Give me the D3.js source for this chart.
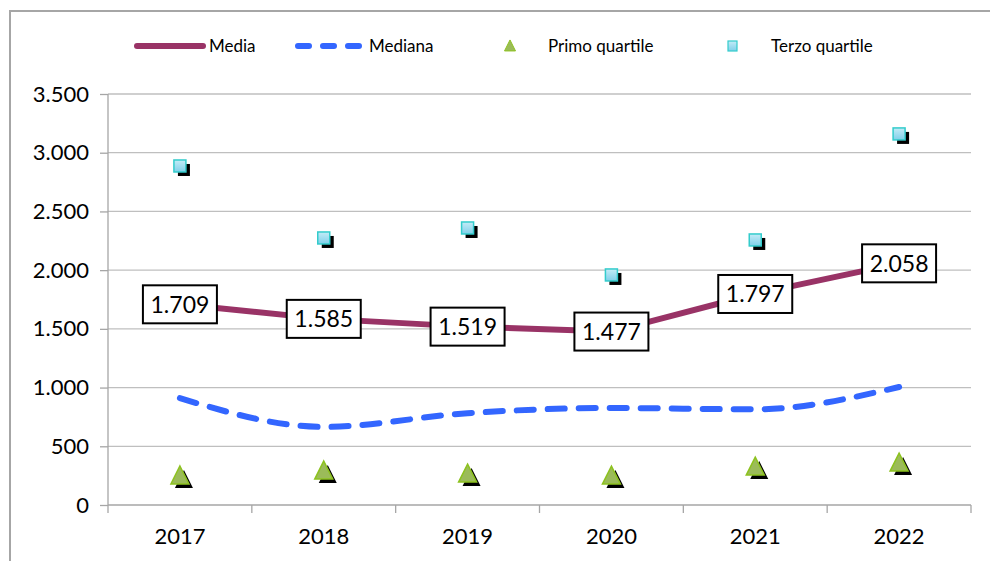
<!DOCTYPE html>
<meta charset="utf-8">
<head>
<script src="https://d3js.org/d3.v7.min.js"></script>
<style>
body { margin: 0; background: #fff; }
text { font-family: Lato, "Noto Sans", sans-serif; fill: #000; }
</style>
</head>
<body>
<script>
var years = ["2017", "2018", "2019", "2020", "2021", "2022"];
var media = [1709, 1585, 1519, 1477, 1797, 2058];
var mediana = [910, 665, 782, 826, 815, 1005];
var primoQuartile = [248, 290, 264, 247, 324, 358];
var terzoQuartile = [2887, 2274, 2359, 1959, 2257, 3160];
var yTicks = [0, 500, 1000, 1500, 2000, 2500, 3000, 3500];

var W = 990, H = 561;
var plotLeft = 108, plotRight = 971, plotTop = 94, plotBottom = 505;

var svg = d3.select("body").append("svg")
    .attr("width", W).attr("height", H);

// outer frame
svg.append("path")
    .attr("d", "M10," + H + "V11H" + W)
    .attr("fill", "none").attr("stroke", "#a6a6a6").attr("stroke-width", 2);

var x = d3.scaleBand().domain(years).range([plotLeft, plotRight]);
var y = d3.scaleLinear().domain([0, 3500]).range([plotBottom, plotTop]);
var fmt = function(v) { return d3.format(",")(v).replace(/,/g, "."); };

// gridlines
svg.append("g").selectAll("line").data(yTicks.slice(1)).enter().append("line")
    .attr("x1", plotLeft).attr("x2", plotRight)
    .attr("y1", function(d) { return y(d); }).attr("y2", function(d) { return y(d); })
    .attr("stroke", "#bfbfbf").attr("stroke-width", 1.3);

// y axis
var yAxis = svg.append("g").attr("transform", "translate(" + plotLeft + ",0)")
    .call(d3.axisLeft(y).tickValues(yTicks).tickSize(8).tickPadding(11).tickFormat(fmt));
yAxis.selectAll("line").attr("stroke", "#a6a6a6").attr("stroke-width", 1.3);
yAxis.select(".domain").attr("stroke", "#a6a6a6").attr("stroke-width", 1.3).attr("d", "M0," + plotBottom + "V" + plotTop);
yAxis.selectAll("text").style("font-size", "22px").style("font-family", "Lato, sans-serif").attr("fill", "#000");

// x axis
var xAxis = svg.append("g").attr("transform", "translate(0," + plotBottom + ")")
    .call(d3.axisBottom(x).tickSize(0).tickPadding(23));
xAxis.select(".domain").attr("stroke", "#a6a6a6").attr("stroke-width", 1.3).attr("d", "M" + plotLeft + ",0H" + plotRight);
xAxis.selectAll("text").style("font-size", "22px").style("font-family", "Lato, sans-serif").attr("fill", "#000");
svg.append("g").selectAll("line").data(d3.range(years.length + 1)).enter().append("line")
    .attr("x1", function(i) { return plotLeft + i * x.bandwidth(); })
    .attr("x2", function(i) { return plotLeft + i * x.bandwidth(); })
    .attr("y1", plotBottom).attr("y2", plotBottom + 8)
    .attr("stroke", "#a6a6a6").attr("stroke-width", 1.3);

var cx = function(i) { return x(years[i]) + x.bandwidth() / 2; };

// median dashed line
var lineMediana = d3.line().curve(d3.curveMonotoneX)
    .x(function(d, i) { return cx(i); }).y(function(d) { return y(d); });
svg.append("path").datum(mediana).attr("d", lineMediana)
    .attr("fill", "none").attr("stroke", "#3366ff").attr("stroke-width", 6)
    .attr("stroke-linecap", "round").attr("stroke-dasharray", "17,14");

// mean line
var lineMedia = d3.line().x(function(d, i) { return cx(i); }).y(function(d) { return y(d); });
svg.append("path").datum(media).attr("d", lineMedia)
    .attr("fill", "none").attr("stroke", "#993366").attr("stroke-width", 6);

// gradient for squares
var defs = svg.append("defs");
var grad = defs.append("linearGradient").attr("id", "sq").attr("x1", 0).attr("y1", 0).attr("x2", 0).attr("y2", 1);
grad.append("stop").attr("offset", "0%").attr("stop-color", "#c4ecf7");
grad.append("stop").attr("offset", "100%").attr("stop-color", "#7fcfe9");

function triPath(px, py, s) {
  return "M" + px + "," + (py - s * 0.55) + "L" + (px + s / 2) + "," + (py + s * 0.45) + "L" + (px - s / 2) + "," + (py + s * 0.45) + "Z";
}

// primo quartile triangles
var tri = svg.append("g").selectAll("g").data(primoQuartile).enter().append("g");
tri.append("path").attr("d", function(d, i) { return triPath(cx(i) + 4, y(d) + 4, 18); }).attr("fill", "#000");
tri.append("path").attr("d", function(d, i) { return triPath(cx(i), y(d), 18); })
    .attr("fill", "#9bbb59").attr("stroke", "#8dc21f").attr("stroke-width", 1.5);

// terzo quartile squares
var sq = svg.append("g").selectAll("g").data(terzoQuartile).enter().append("g");
sq.append("rect").attr("x", function(d, i) { return cx(i) - 6 + 4; }).attr("y", function(d) { return y(d) - 6 + 4; })
    .attr("width", 12).attr("height", 12).attr("fill", "#000");
sq.append("rect").attr("x", function(d, i) { return cx(i) - 6; }).attr("y", function(d) { return y(d) - 6; })
    .attr("width", 12).attr("height", 12).attr("fill", "url(#sq)").attr("stroke", "#33cccc").attr("stroke-width", 1.5);

// data labels
var lab = svg.append("g").selectAll("g").data(media).enter().append("g")
    .attr("transform", function(d, i) { return "translate(" + cx(i) + "," + y(d) + ")"; });
lab.append("rect").attr("x", -37).attr("y", -19).attr("width", 74).attr("height", 38)
    .attr("fill", "#fff").attr("stroke", "#000").attr("stroke-width", 2);
lab.append("text").attr("text-anchor", "middle").attr("dy", "0.36em")
    .style("font-size", "23px").text(function(d) { return fmt(d); });

// legend
var lg = svg.append("g");
lg.append("line").attr("x1", 137).attr("x2", 203).attr("y1", 46).attr("y2", 46)
    .attr("stroke", "#993366").attr("stroke-width", 6).attr("stroke-linecap", "round");
lg.append("text").attr("x", 209).attr("y", 46).attr("dy", "0.35em").style("font-size", "17px").text("Media");
lg.append("line").attr("x1", 298).attr("x2", 364).attr("y1", 46).attr("y2", 46)
    .attr("stroke", "#3366ff").attr("stroke-width", 6).attr("stroke-linecap", "round").attr("stroke-dasharray", "11,14");
lg.append("text").attr("x", 369).attr("y", 46).attr("dy", "0.35em").style("font-size", "17px").text("Mediana");
lg.append("path").attr("d", triPath(510, 46, 11)).attr("fill", "#9bbb59").attr("stroke", "#8dc21f").attr("stroke-width", 1);
lg.append("text").attr("x", 548).attr("y", 46).attr("dy", "0.35em").style("font-size", "17px").text("Primo quartile");
lg.append("rect").attr("x", 728).attr("y", 41).attr("width", 9).attr("height", 10)
    .attr("fill", "url(#sq)").attr("stroke", "#33cccc").attr("stroke-width", 1.2);
lg.append("text").attr("x", 771).attr("y", 46).attr("dy", "0.35em").style("font-size", "17px").text("Terzo quartile");
</script>
</body>
